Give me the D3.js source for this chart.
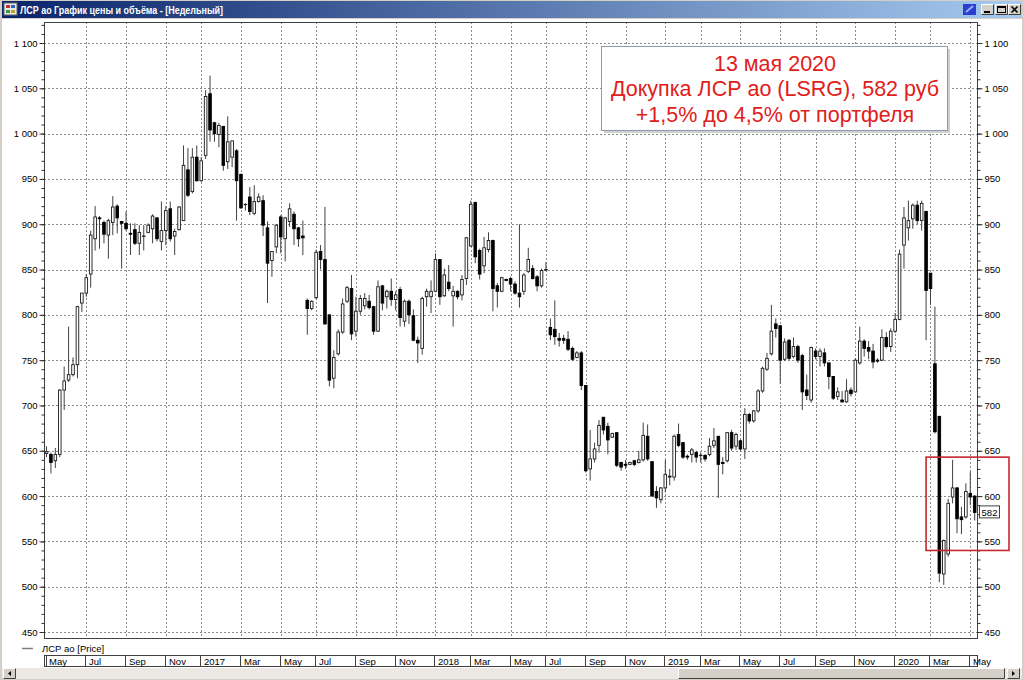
<!DOCTYPE html>
<html><head><meta charset="utf-8">
<script src="https://cdn.jsdelivr.net/npm/d3@7"></script>
<style>body{margin:0;background:#d4d0c8;overflow:hidden}svg{display:block}</style>
</head><body>
<svg id="c" width="1024" height="680"></svg>
<script>
// ---------- DATA ----------
const windowTitle = "ЛСР ао График цены и объёма - [Недельный]";
const seriesName = "ЛСР ао [Price]";
const firstWeekStart = "2016-05-01"; // weekly candles, dated by week start (Sunday)
const opens = [647,646,639,646,717,728,734,745,813,824,845,884,907,902,888,902,920,903,901,890,
894,879,887,891,895,907,881,893,917,887,894,904,960,936,974,948,976,1044,1012,999,
1008,969,974,981,955,922,930,912,925,926,896,860,875,908,884,903,911,896,887,816,
807,819,870,861,800,730,757,781,815,829,782,804,810,815,809,782,832,820,826,817,
828,793,815,799,772,763,820,820,826,861,821,836,821,826,822,840,876,924,871,854,
872,882,832,826,839,840,834,824,826,848,851,842,832,850,786,784,774,774,773,763,
753,758,722,630,641,656,687,677,665,670,637,635,635,639,637,640,666,638,605,596,
609,621,621,668,659,644,646,648,645,645,646,656,666,637,639,670,655,661,652,690,
683,694,716,740,757,790,788,751,772,754,765,755,717,706,760,754,758,747,732,710,
706,704,717,715,747,771,764,760,750,750,775,765,782,795,877,896,906,921,904,914,
846,746,688,514,536,599,609,577,577,603,600];
const highs = [655,648,653,718,743,787,753,810,824,845,893,920,909,904,906,931,922,903,914,901,
901,899,899,901,911,908,925,920,925,895,920,987,984,984,987,974,1048,1064,1013,1012,
1008,1019,992,983,956,923,941,943,934,932,903,870,900,910,908,923,914,897,904,818,
816,872,877,919,800,761,784,818,832,844,820,822,824,822,810,838,833,828,840,826,
831,817,817,806,776,820,829,838,868,861,851,855,832,827,844,886,926,925,873,886,
891,883,835,842,840,842,837,900,846,874,855,844,851,858,796,816,780,778,782,765,
760,760,722,673,659,684,687,681,670,670,638,640,638,640,650,681,679,638,611,610,
640,630,668,680,659,646,653,650,648,646,664,675,666,643,670,673,670,662,697,692,
695,718,743,758,811,796,788,774,773,775,767,757,734,765,763,763,763,747,732,720,
716,729,720,752,787,773,771,768,752,784,781,785,802,872,919,926,923,926,926,915,
846,809,688,552,597,640,610,588,614,627,601];
const lows = [643,625,631,643,695,726,732,730,803,820,830,871,873,879,862,888,890,851,893,866,
877,866,871,890,879,881,871,877,881,866,893,904,930,934,947,947,972,991,991,985,
959,961,963,904,917,915,910,910,924,887,813,842,868,868,859,897,877,875,866,778,
805,817,850,789,721,719,755,779,813,772,776,800,806,806,778,781,805,807,810,805,
787,787,790,771,747,756,809,802,825,811,820,826,787,817,816,833,875,857,839,846,
869,804,808,825,837,826,822,808,822,846,839,826,830,848,772,767,765,768,760,749,
752,717,626,617,637,648,668,646,664,632,628,630,634,633,636,638,639,600,587,592,
604,612,617,654,641,640,637,637,637,638,644,653,598,624,637,650,651,650,641,680,
681,692,714,738,755,775,724,749,750,752,747,695,706,703,751,743,743,718,706,706,
703,703,710,714,745,754,751,741,747,749,763,759,780,794,851,882,895,900,893,772,
811,669,505,502,533,592,559,558,575,590,573];
const closes = [649,637,646,717,727,734,745,809,824,841,888,908,906,889,904,919,907,901,895,889,
879,891,887,899,909,884,893,915,884,892,919,965,932,974,948,970,1041,1004,1000,1009,
965,991,992,948,918,922,914,925,930,899,857,870,899,886,907,917,895,884,885,807,
815,869,861,790,728,753,781,812,830,779,804,818,818,808,782,831,813,826,817,822,
797,815,800,772,769,818,826,826,861,820,844,829,826,820,839,885,922,864,845,874,
882,829,826,841,838,834,824,820,844,861,840,832,849,850,778,776,772,772,762,751,
758,722,628,641,652,678,673,662,669,634,632,634,637,635,640,667,641,600,598,609,
624,622,666,656,643,643,651,643,645,641,655,661,635,636,670,653,668,652,690,683,
694,716,741,752,782,785,750,770,752,765,750,715,711,764,754,760,747,732,708,715,
704,716,713,750,771,763,760,748,749,775,765,782,795,867,907,904,921,904,923,827,
829,671,515,551,592,609,575,574,605,599,582];
const priceTicks = [450,500,550,600,650,700,750,800,850,900,950,1000,1050,1100];
const monthNames = ["Jan","Feb","Mar","Apr","May","Jun","Jul","Aug","Sep","Oct","Nov","Dec"];
const noteLines = ["13 мая 2020", "Докупка ЛСР ао (LSRG), 582 руб", "+1,5% до 4,5% от портфеля"];
const lastPrice = 582;
const focusWeekFrom = 199;          // red frame starts at this candle
const focusPriceRange = [540, 643]; // red frame price span

// ---------- SETUP ----------
const svg = d3.select("#c");
const start = d3.utcParse("%Y-%m-%d")(firstWeekStart);
const dates = opens.map((_, i) => d3.utcDay.offset(start, 7 * i));
const candles = dates.map((d, i) => ({d, o: opens[i], h: highs[i], l: lows[i], c: closes[i]}));

const P = {left: 44, right: 977, top: 22, bottom: 638};
const x = d3.scaleUtc().domain([dates[0], dates[dates.length - 1]]).range([46.5, 974.7]);
const y = d3.scaleLinear().domain([450, 1100]).range([632, 43]);
const loc = d3.formatLocale({decimal: ",", thousands: " ", grouping: [3], currency: ["", ""]});
const fmt = loc.format(",d");
const FONT = "'Liberation Sans', Arial, sans-serif";

// window frame
svg.append("rect").attr("x", 0).attr("y", 0).attr("width", 1024).attr("height", 680).attr("fill", "#d4d0c8");
svg.append("rect").attr("x", 2).attr("y", 19).attr("width", 1020).attr("height", 649).attr("fill", "#ffffff");

// title bar
const defs = svg.append("defs");
const g1 = defs.append("linearGradient").attr("id", "tb");
g1.append("stop").attr("offset", "0%").attr("stop-color", "#0a246a");
g1.append("stop").attr("offset", "100%").attr("stop-color", "#a6caf0");
svg.append("rect").attr("x", 2).attr("y", 1).attr("width", 1020).attr("height", 17).attr("fill", "url(#tb)");
const ic = svg.append("g").attr("transform", "translate(4,3)");
ic.append("rect").attr("width", 13).attr("height", 12).attr("fill", "#e8e8e8").attr("stroke", "#666");
ic.append("rect").attr("x", 2).attr("y", 2).attr("width", 4).attr("height", 3).attr("fill", "#c03030");
ic.append("rect").attr("x", 7).attr("y", 2).attr("width", 4).attr("height", 3).attr("fill", "#3060c0");
ic.append("rect").attr("x", 2).attr("y", 7).attr("width", 4).attr("height", 3).attr("fill", "#30a030");
ic.append("rect").attr("x", 7).attr("y", 7).attr("width", 4).attr("height", 3).attr("fill", "#c0a030");
svg.append("text").attr("x", 20).attr("y", 13.5).attr("fill", "#fff").attr("font-family", FONT)
  .attr("font-weight", "bold").attr("font-size", 10.5).attr("textLength", 203).attr("lengthAdjust", "spacingAndGlyphs")
  .text(windowTitle);
const btn = (bx, draw) => {
  const g = svg.append("g").attr("transform", `translate(${bx},4)`);
  g.append("rect").attr("width", 13).attr("height", 11).attr("fill", "#d4d0c8");
  g.append("path").attr("d", "M0.5,10.5V0.5H12.5").attr("stroke", "#fff").attr("fill", "none");
  g.append("path").attr("d", "M0.5,10.5H12.5V0.5").attr("stroke", "#404040").attr("fill", "none");
  draw(g);
};
svg.append("rect").attr("x", 963).attr("y", 4).attr("width", 13).attr("height", 11).attr("fill", "#2a3fd0");
svg.append("path").attr("d", "M966,12 L973,6").attr("stroke", "#9ab0ff").attr("stroke-width", 2);
btn(981, g => g.append("rect").attr("x", 3).attr("y", 7).attr("width", 6).attr("height", 2).attr("fill", "#000"));
btn(995, g => { g.append("rect").attr("x", 2.5).attr("y", 2.5).attr("width", 8).attr("height", 6).attr("fill", "none").attr("stroke", "#000");
               g.append("rect").attr("x", 2).attr("y", 2).attr("width", 9).attr("height", 2).attr("fill", "#000"); });
btn(1008, g => g.append("path").attr("d", "M3.5,2.5L9.5,8.5M9.5,2.5L3.5,8.5").attr("stroke", "#000").attr("stroke-width", 1.6));

// ---------- GRID ----------
const monthTicks = dates.filter((d, i) => {
  const m = d.getUTCMonth();
  return m % 2 === 0 && (i === 0 || dates[i - 1].getUTCMonth() !== m);
});
const grid = svg.append("g").attr("stroke", "#8a8a8a").attr("stroke-dasharray", "2,2").attr("stroke-width", 1);
grid.selectAll("line.h").data(priceTicks).join("line").attr("class", "h")
  .attr("x1", P.left).attr("x2", P.right)
  .attr("y1", d => Math.round(y(d)) + 0.5).attr("y2", d => Math.round(y(d)) + 0.5);
grid.selectAll("line.v").data(monthTicks.slice(1)).join("line").attr("class", "v")
  .attr("x1", d => Math.round(x(d)) + 0.5).attr("x2", d => Math.round(x(d)) + 0.5)
  .attr("y1", P.top).attr("y2", P.bottom);

svg.append("rect").attr("x", P.left + 0.5).attr("y", P.top + 0.5).attr("width", P.right - P.left).attr("height", P.bottom - P.top)
  .attr("fill", "none").attr("stroke", "#404040");

// ---------- AXES ----------
const minorTicks = d3.range(450, 1121, 10);
const axL = d3.axisLeft(y).tickValues(minorTicks).tickSize(3).tickFormat("");
const axR = d3.axisRight(y).tickValues(minorTicks).tickSize(3).tickFormat("");
const styleAxis = g => { g.select(".domain").remove(); g.selectAll("line").attr("stroke", "#303030"); };
svg.append("g").attr("transform", `translate(${P.left + 0.5},0)`).call(axL).call(styleAxis);
svg.append("g").attr("transform", `translate(${P.right + 0.5},0)`).call(axR).call(styleAxis);
const majL = d3.axisLeft(y).tickValues(priceTicks).tickSize(5).tickPadding(2).tickFormat(fmt);
const majR = d3.axisRight(y).tickValues(priceTicks).tickSize(5).tickPadding(2).tickFormat(fmt);
const styleMaj = g => { g.select(".domain").remove(); g.selectAll("line").attr("stroke", "#303030");
  g.selectAll("text").attr("font-family", FONT).attr("font-size", 9.5).attr("fill", "#000"); };
svg.append("g").attr("transform", `translate(${P.left + 0.5},0)`).call(majL).call(styleMaj);
svg.append("g").attr("transform", `translate(${P.right + 0.5},0)`).call(majR).call(styleMaj);

// ---------- CANDLES ----------
const cg = svg.append("g");
cg.selectAll("line").data(candles).join("line")
  .attr("x1", d => x(d.d)).attr("x2", d => x(d.d))
  .attr("y1", d => y(d.h)).attr("y2", d => y(d.l))
  .attr("stroke", "#404040").attr("stroke-width", 1);
cg.selectAll("rect").data(candles).join("rect")
  .attr("x", d => x(d.d) - 1.3).attr("width", 2.6)
  .attr("y", d => y(Math.max(d.o, d.c)))
  .attr("height", d => Math.max(Math.abs(y(d.o) - y(d.c)), 0.4))
  .attr("fill", d => d.c >= d.o ? "#ffffff" : "#000000")
  .attr("stroke", d => d.c >= d.o ? "#1a1a1a" : "#000000").attr("stroke-width", 0.9);

// last price label
const lp = svg.append("g").attr("transform", `translate(${P.right + 2},${y(lastPrice)})`);
lp.append("rect").attr("x", 0.5).attr("y", -6.5).attr("width", 20).attr("height", 12).attr("fill", "#fff").attr("stroke", "#404040");
lp.append("text").attr("x", 10.5).attr("y", 3.5).attr("text-anchor", "middle").attr("font-family", FONT)
  .attr("font-size", 9.5).text(fmt(lastPrice));

// red focus frame
const fx0 = x(dates[focusWeekFrom]);
svg.append("rect").attr("x", fx0).attr("y", y(focusPriceRange[1]))
  .attr("width", 1009 - fx0).attr("height", y(focusPriceRange[0]) - y(focusPriceRange[1]))
  .attr("fill", "none").attr("stroke", "#c4282e").attr("stroke-width", 1.6);

// ---------- NOTE BOX ----------
const nb = {x: 601, y: 46, w: 346, h: 84};
svg.append("rect").attr("x", nb.x + 3).attr("y", nb.y + 3).attr("width", nb.w).attr("height", nb.h).attr("fill", "#cfcfcf");
svg.append("rect").attr("x", nb.x + 0.5).attr("y", nb.y + 0.5).attr("width", nb.w).attr("height", nb.h)
  .attr("fill", "#ffffff").attr("stroke", "#8f9bb3");
svg.append("g").selectAll("text").data(noteLines).join("text")
  .attr("x", nb.x + nb.w / 2 + 1).attr("y", (d, i) => nb.y + 24.5 + i * 25.5)
  .attr("text-anchor", "middle").attr("font-family", FONT).attr("font-size", 21.5).attr("fill", "#e0201a")
  .text(d => d);

// ---------- LEGEND ----------
svg.append("line").attr("x1", 22).attr("x2", 33).attr("y1", 648.5).attr("y2", 648.5).attr("stroke", "#808080").attr("stroke-width", 1.5);
svg.append("text").attr("x", 42).attr("y", 652).attr("font-family", FONT).attr("font-size", 9.5).attr("fill", "#000").text(seriesName);

// ---------- TIME AXIS ----------
const ta = svg.append("g");
ta.append("rect").attr("x", P.left + 0.5).attr("y", 655.5).attr("width", P.right - P.left).attr("height", 11)
  .attr("fill", "#fff").attr("stroke", "#404040");
ta.append("line").attr("x1", P.left + 2.5).attr("x2", P.left + 2.5).attr("y1", 655).attr("y2", 667).attr("stroke", "#404040");
ta.selectAll("line.sep").data(monthTicks.slice(1)).join("line").attr("class", "sep")
  .attr("x1", d => Math.round(x(d)) - 0.5).attr("x2", d => Math.round(x(d)) - 0.5)
  .attr("y1", 655).attr("y2", 667).attr("stroke", "#404040");
ta.selectAll("text").data(monthTicks).join("text")
  .attr("x", (d, i) => i === 0 ? P.left + 5 : Math.round(x(d)) + 3).attr("y", 664.5)
  .attr("font-family", FONT).attr("font-size", 9.5).attr("fill", "#000")
  .text(d => d.getUTCMonth() === 0 ? d.getUTCFullYear() : monthNames[d.getUTCMonth()]);

// ---------- SCROLL BAR ----------
svg.append("rect").attr("x", 2).attr("y", 668).attr("width", 1020).attr("height", 11).attr("fill", "#ece9e4");
const sbtn = (bx, w) => { const g = svg.append("g").attr("transform", `translate(${bx},668)`);
  g.append("rect").attr("width", w).attr("height", 11).attr("fill", "#d4d0c8");
  g.append("path").attr("d", `M0.5,10.5V0.5H${w - 0.5}`).attr("stroke", "#fff").attr("fill", "none");
  g.append("path").attr("d", `M0.5,10.5H${w - 0.5}V0.5`).attr("stroke", "#404040").attr("fill", "none"); return g; };
sbtn(3, 13).append("path").attr("d", "M8,3L5,5.5L8,8Z").attr("fill", "#000");
sbtn(678, 327);
sbtn(1007, 13).append("path").attr("d", "M5,3L8,5.5L5,8Z").attr("fill", "#000");
</script>
</body></html>
